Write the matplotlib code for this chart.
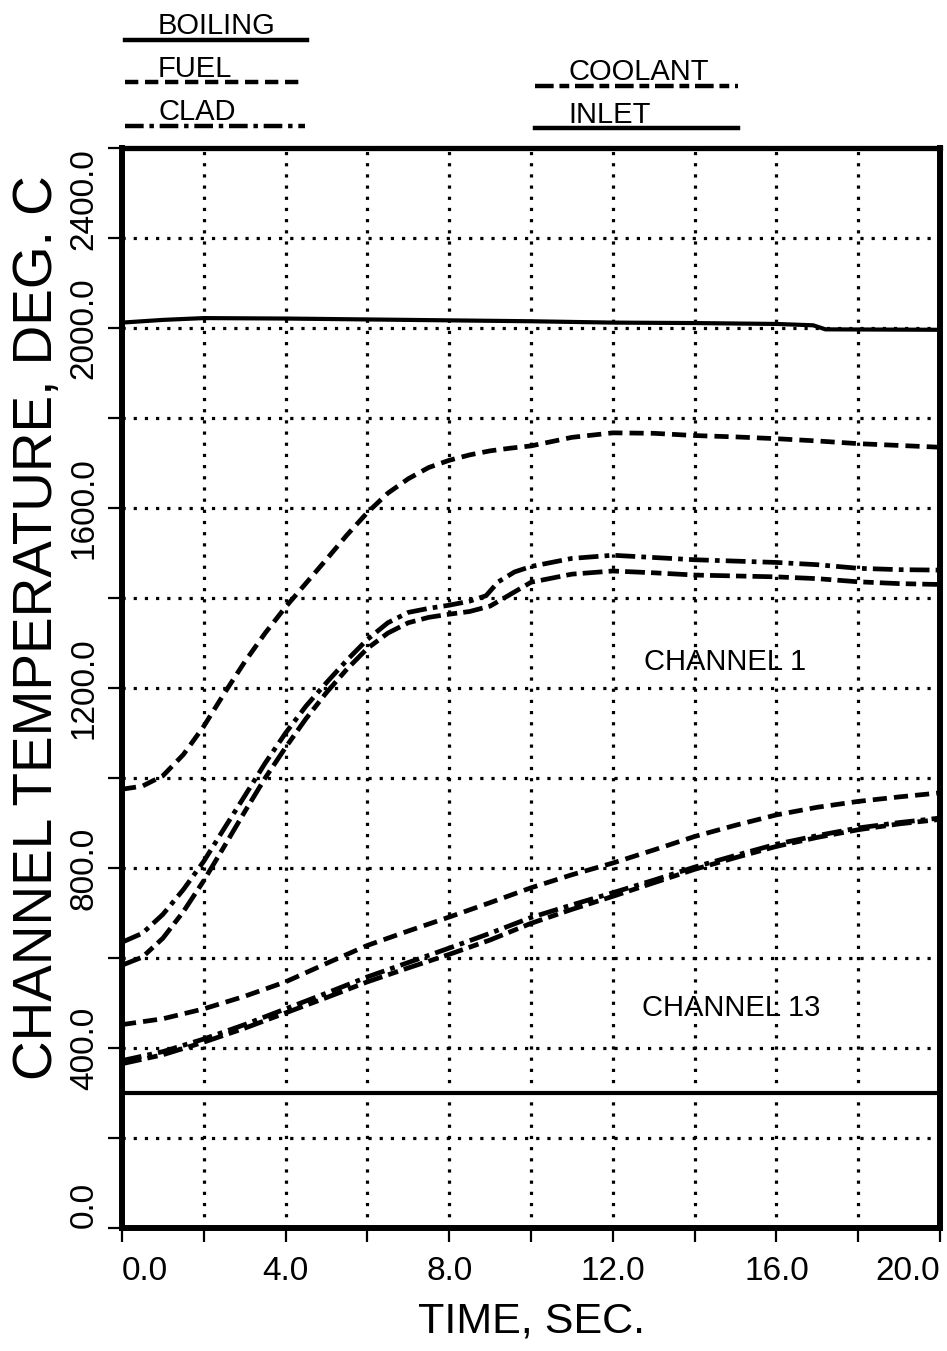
import matplotlib
matplotlib.use('Agg')
import matplotlib.pyplot as plt
from matplotlib.lines import Line2D
from matplotlib.ticker import MultipleLocator

plt.rcParams['font.family'] = ['Liberation Sans', 'DejaVu Sans']

# boiling temperature (solid)
t_boil = [0, 1, 2, 4, 6, 8, 10, 12, 14, 16, 16.9, 17.2, 20]
boiling = [2012, 2018, 2022, 2021, 2019, 2017, 2015, 2012, 2011, 2009, 2006, 1997, 1996]

# coolant inlet (solid)
t_inlet = [0, 20]
inlet = [300, 300]

# channel 1
t_fuel1 = [0, 0.5, 1, 1.5, 2, 2.5, 3, 3.5, 4, 4.5, 5, 5.5, 6, 6.5, 7, 7.5, 8, 8.5, 9, 9.5,
           10, 11, 12, 13, 14, 15, 16, 17, 18, 19, 20]
fuel1 = [975, 982, 1005, 1052, 1115, 1188, 1258, 1322, 1380, 1433, 1486, 1540, 1590, 1633,
         1665, 1690, 1706, 1718, 1727, 1733, 1738, 1757, 1767, 1766, 1761, 1758, 1754, 1749,
         1743, 1739, 1735]

t_clad1 = [0, 0.5, 1, 1.5, 2, 2.5, 3, 3.5, 4, 4.5, 5, 5.5, 6, 6.5, 7, 7.5, 8, 8.5, 8.9, 9.2,
           9.6, 10, 11, 12, 13, 14, 15, 16, 17, 18, 19, 20]
clad1 = [635, 655, 697, 752, 815, 888, 960, 1033, 1100, 1160, 1212, 1262, 1308, 1345, 1368,
         1377, 1384, 1393, 1405, 1436, 1458, 1470, 1488, 1495, 1490, 1485, 1482, 1479, 1474,
         1466, 1463, 1462]

t_cool1 = [0, 0.5, 1, 1.5, 2, 2.5, 3, 3.5, 4, 4.5, 5, 5.5, 6, 6.5, 7, 7.5, 8, 8.5, 9, 9.4,
           10, 11, 12, 13, 14, 15, 16, 17, 18, 19, 20]
cool1 = [584, 602, 644, 703, 772, 848, 925, 1000, 1068, 1132, 1190, 1242, 1288, 1322, 1345,
         1357, 1364, 1370, 1382, 1403, 1435, 1453, 1460, 1456, 1451, 1449, 1447, 1443, 1436,
         1432, 1430]

# channel 13
t13 = [0, 1, 2, 3, 4, 5, 6, 7, 8, 9, 10, 11, 12, 13, 14, 15, 16, 17, 18, 19, 20]
fuel13 = [452, 465, 487, 515, 547, 588, 628, 660, 691, 723, 756, 785, 811, 840, 870, 895,
          918, 935, 948, 958, 967]
clad13 = [372, 392, 420, 452, 487, 522, 558, 590, 622, 655, 690, 718, 745, 773, 802, 828,
          853, 872, 889, 901, 911]
cool13 = [365, 385, 413, 444, 478, 512, 547, 578, 608, 640, 677, 708, 737, 767, 797, 823,
          848, 868, 885, 898, 908]

x_ticks = [0, 4, 8, 12, 16, 20]
x_labels = ['0.0', '4.0', '8.0', '12.0', '16.0', '20.0']
y_ticks = [0, 400, 800, 1200, 1600, 2000, 2400]
y_labels = ['0.0', '400.0', '800.0', '1200.0', '1600.0', '2000.0', '2400.0']

W, H = 947, 1351
FUEL = (0, (3, 1.5))
CLAD = (0, (4.2, 1.3, 1, 1.3))
COOL = (0, (4.2, 1.3, 2.2, 1.3))
LW = 3.4

fig = plt.figure(figsize=(W / 100, H / 100), dpi=100)
ax = fig.add_axes([122 / W, 1 - 1228 / H, (940 - 122) / W, (1228 - 148) / H])

ax.plot(t_boil, boiling, color='black', lw=3, solid_joinstyle='round')
ax.plot(t_inlet, inlet, color='black', lw=3)
ax.plot(t_fuel1, fuel1, color='black', lw=LW, ls=FUEL)
ax.plot(t_clad1, clad1, color='black', lw=LW, ls=CLAD)
ax.plot(t_cool1, cool1, color='black', lw=LW, ls=COOL)
ax.plot(t13, fuel13, color='black', lw=LW, ls=FUEL)
ax.plot(t13, clad13, color='black', lw=LW, ls=CLAD)
ax.plot(t13, cool13, color='black', lw=LW, ls=COOL)

ax.set_xlim(0, 20)
ax.set_ylim(0, 2400)
ax.set_xticks(x_ticks)
ax.set_xticklabels(x_labels, fontsize=24)
ax.set_yticks(y_ticks)
ax.set_yticklabels(y_labels, fontsize=24, rotation=90, va='center')
ax.xaxis.set_minor_locator(MultipleLocator(2))
ax.yaxis.set_minor_locator(MultipleLocator(200))
ax.tick_params(which='both', direction='out', length=10, width=1.6, color='black')
ax.tick_params(axis='x', pad=10)
ax.tick_params(axis='y', pad=6)
xl = ax.get_xticklabels()
xl[0].set_ha('left')
xl[-1].set_ha('right')
yl = ax.get_yticklabels()
yl[0].set_va('bottom')
yl[-1].set_va('top')

ax.grid(which='both', color='black', lw=2.3, ls=(0, (1, 2.5)))
for side in ['left', 'bottom', 'right']:
    ax.spines[side].set_linewidth(4.3)
ax.spines['top'].set_linewidth(3.8)

ax.text(14.74, 1258, 'CHANNEL 1', ha='center', va='center', fontsize=21)
ax.text(14.9, 489, 'CHANNEL 13', ha='center', va='center', fontsize=21)

fig.text(532 / W, 1 - 1322 / H, 'TIME, SEC.', ha='center', va='center', fontsize=31)
fig.text(38 / W, 1 - 628 / H, 'CHANNEL TEMPERATURE, DEG. C', ha='center', va='center',
         rotation=90, fontsize=39.5)


def key(x0, x1, y, ls, label, tx, ty):
    fig.add_artist(Line2D([x0 / W, x1 / W], [1 - y / H, 1 - y / H], color='black', lw=3.2,
                          ls=ls, transform=fig.transFigure))
    fig.text(tx / W, 1 - ty / H, label, ha='left', va='baseline', fontsize=21)


key(125, 307, 40, '-', 'BOILING', 158, 34)
key(125, 305, 82, FUEL, 'FUEL', 158, 77)
key(125, 305, 126, CLAD, 'CLAD', 158, 120)
key(535, 738, 86, COOL, 'COOLANT', 568, 80)
key(535, 738, 128, '-', 'INLET', 568, 123)

fig.savefig('out.png', dpi=100)
